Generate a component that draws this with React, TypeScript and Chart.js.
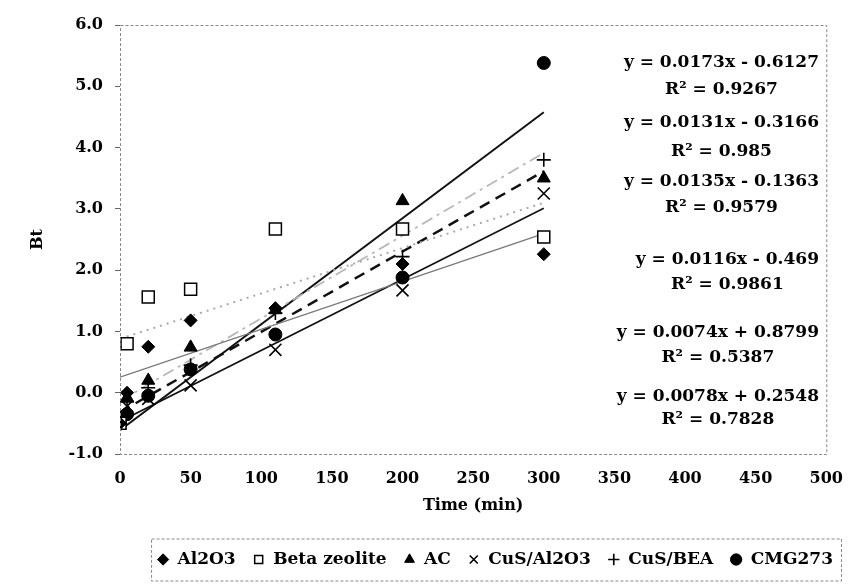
import React, { useEffect, useRef } from 'react';
import { Chart, registerables } from 'chart.js';

Chart.register(...registerables);

// ---------- data ----------
const times = [0, 5, 20, 50, 110, 200, 300];
const seriesNames = ['Al2O3', 'Beta zeolite', 'AC', 'CuS/Al2O3', 'CuS/BEA', 'CMG273'];
const al2o3 = [-0.5, 0.0, 0.75, 1.18, 1.38, 2.1, 2.26];
const betaZeolite = [-0.5, 0.8, 1.56, 1.69, 2.67, 2.67, 2.54];
const ac = [-0.5, -0.08, 0.2, 0.74, 1.35, 3.13, 3.5];
const cusAl2o3 = [-0.5, -0.22, -0.1, 0.12, 0.7, 1.67, 3.25];
const cusBea = [-0.5, -0.15, 0.08, 0.45, 1.3, 2.22, 3.8];
const cmg273 = [-0.5, -0.35, -0.05, 0.38, 0.95, 1.88, 5.38];
const seriesValues = [al2o3, betaZeolite, ac, cusAl2o3, cusBea, cmg273];

// linear trendlines (slope, intercept, R²) per series
const slopes = [0.0078, 0.0074, 0.0131, 0.0116, 0.0135, 0.0173];
const intercepts = [0.2548, 0.8799, -0.3166, -0.469, -0.1363, -0.6127];
const rSquared = [0.7828, 0.5387, 0.985, 0.9861, 0.9579, 0.9267];
const fitStart = 0;
const fitEnd = 300;
// equation labels from top to bottom (series indices)
const equationOrder = [5, 2, 4, 3, 1, 0];

const xMin = 0, xMax = 500, xStep = 50;
const yMin = -1, yMax = 6, yStep = 1;

// ---------- styles ----------
const FONT = '"DejaVu Serif", "Liberation Serif", serif';
const pointStyles = ['rectRot', 'rect', 'triangle', 'crossRot', 'cross', 'circle'];
const pointRadii = [6.5, 8.5, 7.5, 8.5, 7, 6.5];
const pointFills = ['#000', '#fff', '#000', '#000', '#000', '#000'];
const pointBorderWidths = [1, 1.5, 1, 1.6, 1.6, 1];
const lineColors = ['#777', '#aaa', '#111', '#111', '#b8b8b8', '#111'];
const lineWidths = [1.2, 2, 2.5, 1.6, 1.8, 2];
const lineDashes: number[][] = [[], [2, 5], [11, 7], [], [12, 5, 3, 5], []];
const eqRowY = [[63, 90], [123, 152], [182, 208], [260, 285], [333, 358], [397, 420]];

function fmtEq(i: number) {
  const b = intercepts[i];
  return `y = ${slopes[i]}x ${b < 0 ? '-' : '+'} ${Math.abs(b)}`;
}

const decorPlugin = {
  id: 'decor',
  afterDraw(chart: any) {
    const { ctx, chartArea } = chart;
    ctx.save();
    // plot area dashed border
    ctx.strokeStyle = '#888';
    ctx.lineWidth = 1;
    ctx.setLineDash([3, 2]);
    ctx.strokeRect(chartArea.left + 0.5, chartArea.top + 0.5, chartArea.right - chartArea.left, chartArea.bottom - chartArea.top);
    // legend dashed box
    const lg = chart.legend;
    if (lg && lg.legendHitBoxes && lg.legendHitBoxes.length) {
      const hb = lg.legendHitBoxes;
      const l = Math.min(...hb.map((h: any) => h.left)) - 6;
      const r = Math.max(...hb.map((h: any) => h.left + h.width)) + 8;
      const cy = hb[0].top + hb[0].height / 2;
      ctx.strokeRect(l + 0.5, cy - 20.5, r - l, 42);
    }
    ctx.setLineDash([]);
    // trendline equations
    ctx.fillStyle = '#000';
    ctx.font = `bold 17px ${FONT}`;
    ctx.textBaseline = 'middle';
    const rightX = 819;
    equationOrder.forEach((si, k) => {
      const eq = fmtEq(si);
      const w = ctx.measureText(eq).width;
      ctx.textAlign = 'right';
      ctx.fillText(eq, rightX, eqRowY[k][0]);
      ctx.textAlign = 'center';
      ctx.fillText(`R² = ${rSquared[si]}`, rightX - w / 2, eqRowY[k][1]);
    });
    ctx.restore();
  },
};

export default function App() {
  const ref = useRef<HTMLCanvasElement>(null);

  useEffect(() => {
    document.body.style.margin = '0';
    const canvas = ref.current!;
    const pointSets = seriesNames.map((name, i) => ({
      label: name,
      data: times.map((t, j) => ({ x: t, y: seriesValues[i][j] })),
      pointStyle: pointStyles[i],
      pointRadius: pointRadii[i],
      backgroundColor: pointFills[i],
      borderColor: '#000',
      borderWidth: pointBorderWidths[i],
      showLine: false,
      order: 0,
    }));
    const trendSets = seriesNames.map((name, i) => ({
      label: name + ' trend',
      data: [fitStart, fitEnd].map((x) => ({ x, y: slopes[i] * x + intercepts[i] })),
      showLine: true,
      pointRadius: 0,
      borderColor: lineColors[i],
      borderWidth: lineWidths[i],
      borderDash: lineDashes[i],
      backgroundColor: 'transparent',
      order: 1,
    }));
    const tickFont = { family: FONT, size: 16, weight: 'bold' as const };
    const chart = new Chart(canvas, {
      type: 'scatter',
      data: { datasets: [...pointSets, ...trendSets] as any },
      options: {
        animation: false,
        responsive: false,
        devicePixelRatio: 1,
        layout: { padding: { top: 25, right: 0, left: 0, bottom: 7 } },
        plugins: {
          tooltip: { enabled: false },
          legend: {
            position: 'bottom',
            align: 'end',
            labels: {
              usePointStyle: true,
              boxWidth: 12,
              boxHeight: 8,
              padding: 17,
              color: '#000',
              font: { family: FONT, size: 17, weight: 'bold' },
              filter: (item: any) => item.datasetIndex < seriesNames.length,
            },
          },
        },
        scales: {
          x: {
            type: 'linear',
            min: xMin,
            max: xMax,
            ticks: { stepSize: xStep, color: '#000', font: tickFont, padding: 7 },
            grid: { display: false },
            border: { display: false },
            title: {
              display: true,
              text: 'Time (min)',
              color: '#000',
              font: tickFont,
              padding: { top: 0, bottom: 19 },
            },
            afterFit: (s: any) => { s.height = 80; },
          },
          y: {
            type: 'linear',
            min: yMin,
            max: yMax,
            ticks: {
              stepSize: yStep,
              color: '#000',
              font: tickFont,
              padding: 12,
              callback: (v: any) => Number(v).toFixed(1),
            },
            grid: { drawOnChartArea: false, drawTicks: true, tickLength: 5, color: '#666' },
            border: { display: false },
            title: {
              display: true,
              text: 'Bt',
              color: '#000',
              font: tickFont,
              padding: { top: 28, bottom: 0 },
            },
            afterFit: (s: any) => { s.width = 120; },
          },
          y2: {
            type: 'linear',
            position: 'right',
            min: 0,
            max: 1,
            display: true,
            ticks: { display: false },
            grid: { display: false },
            border: { display: false },
            afterFit: (s: any) => { s.width = 16; },
          },
        },
      } as any,
      plugins: [decorPlugin],
    });
    return () => chart.destroy();
  }, []);

  return (
    <div style={{ width: 850, height: 585, background: '#fff' }}>
      <canvas ref={ref} width={850} height={585} />
    </div>
  );
}
